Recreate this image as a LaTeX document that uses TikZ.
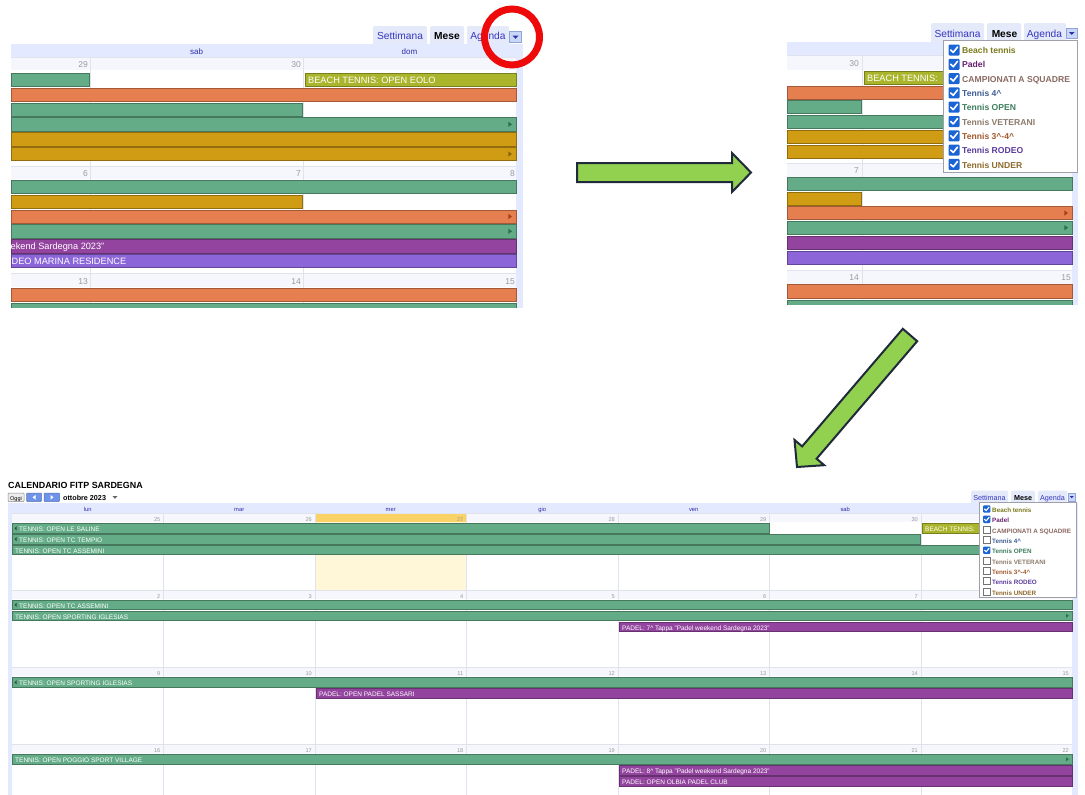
\documentclass[tikz,border=0pt]{standalone}
\usepackage{fontspec}
\setmainfont{Liberation Sans}
\usetikzlibrary{calc}
\definecolor{gr}{HTML}{64AC87}
\definecolor{grD}{HTML}{2F6E4C}
\definecolor{orb}{HTML}{E67F4F}
\definecolor{orbD}{HTML}{A8401A}
\definecolor{gd}{HTML}{D09C13}
\definecolor{gdD}{HTML}{8A6508}
\definecolor{yg}{HTML}{AAB52B}
\definecolor{pu}{HTML}{93449F}
\definecolor{vi}{HTML}{8C66D9}
\definecolor{hdr}{HTML}{E3E9FF}
\definecolor{tabbg}{HTML}{E4EAFA}
\definecolor{daybg}{HTML}{F6F7FD}
\definecolor{gridc}{HTML}{E1E3EC}
\definecolor{numgray}{HTML}{9A9A9A}
\definecolor{daytxt}{HTML}{2E2EA6}
\definecolor{tabblue}{HTML}{3636C0}
\definecolor{arrowgreen}{HTML}{92D050}
\definecolor{arrowedge}{HTML}{1F2A3A}
\definecolor{ringred}{HTML}{EE0A0A}
\definecolor{cbblue}{HTML}{1B64D6}
\definecolor{menuborder}{HTML}{A0A0A8}
\definecolor{ddbtn}{HTML}{C8D6F8}
\definecolor{ddbtnD}{HTML}{8FA5DA}
\definecolor{todayD}{HTML}{FAD265}
\definecolor{todayL}{HTML}{FFF7D8}
\definecolor{navblue}{HTML}{6F93E8}
\definecolor{mBeach}{HTML}{7A7A1E}
\definecolor{mPadel}{HTML}{6A2070}
\definecolor{mCamp}{HTML}{8A6A62}
\definecolor{mQuattro}{HTML}{3F5E96}
\definecolor{mOpen}{HTML}{3E7E5E}
\definecolor{mVet}{HTML}{8C7B6B}
\definecolor{mTre}{HTML}{A35A2E}
\definecolor{mRodeo}{HTML}{5B3C9C}
\definecolor{mUnder}{HTML}{8E6A2C}
\newcommand\fsz[1]{\fontsize{#1}{#1}\selectfont}
% event bar: name, x1, y1, x2, y2, colour, text
\newcommand\evbar[7]{%
  \path[fill=#6,draw=#6!70!black,line width=0.6pt] (#2,#3) rectangle (#4,#5);
  \def\evtxt{#7}%
  \ifx\evtxt\empty\else\node[bartxt] (#1) at ({#2+3},{(#3+#5)/2}) {#7};\fi}
\newcommand\evbarL[7]{%
  \path[fill=#6,draw=#6!70!black,line width=0.6pt] (#2,#3) rectangle (#4,#5);
  \fill[#6!45!black] ({#2+4.5},{(#3+#5)/2-2}) -- ({#2+2.5},{(#3+#5)/2}) -- ({#2+4.5},{(#3+#5)/2+2}) -- cycle;
  \node[bartxt] (#1) at ({#2+7},{(#3+#5)/2}) {#7};}
% right marker: x, y, half size, colour
\newcommand\rtri[4]{\fill[#4] ({#1-#3},{#2-#3}) -- ({#1+0.4*#3},{#2}) -- ({#1-#3},{#2+#3}) -- cycle;}
% check boxes: x centre, y centre, size, line width
\newcommand\chkon[4]{%
  \begin{scope}[shift={(#1,#2)}]
    \fill[cbblue,rounded corners=1pt] ({-#3/2},{-#3/2}) rectangle ({#3/2},{#3/2});
    \draw[white,line width=#4,line cap=round,line join=round] ({-0.3*#3},0) -- ({-0.07*#3},{0.22*#3}) -- ({0.32*#3},{-0.27*#3});
  \end{scope}}
\newcommand\chkoff[3]{%
  \draw[fill=white,draw=black!55,line width=0.6pt] ({#1-#3/2},{#2-#3/2}) rectangle ({#1+#3/2},{#2+#3/2});}
\begin{document}
\begin{tikzpicture}[x=1pt,y=-1pt,
  bartxt/.style={anchor=west,inner sep=0pt,text=white,font=\fsz{9.2},text height=0.72em,text depth=0pt},
  dnum/.style={anchor=east,inner sep=0pt,text=numgray,font=\fsz{8.5},text height=0.72em,text depth=0pt},
  dayname/.style={inner sep=0pt,text=daytxt,font=\fsz{8},text height=0.72em,text depth=0pt},
  tabtext/.style={inner sep=0pt,text=tabblue,font=\fsz{10.2},text height=0.72em,text depth=0pt},
  tabbold/.style={inner sep=0pt,text=black,font=\bfseries\fsz{10.2},text height=0.72em,text depth=0pt},
  menuitem/.style={anchor=west,inner sep=0pt,font=\bfseries\fsz{8.6},text height=0.72em,text depth=0pt},
  gridline/.style={draw=gridc,line width=0.6pt},
  bigarrow/.style={fill=arrowgreen,draw=arrowedge,line width=2pt,line join=miter}]
\useasboundingbox (0,0) rectangle (1085,795);
\fill[white] (0,0) rectangle (1085,795);

% ================= TOP-LEFT PANEL =================
\begin{scope}
  \clip (11,20) rectangle (523,307.5);
  \fill[tabbg,rounded corners=2pt] (373,26) rectangle (427,50);
  \fill[tabbg,rounded corners=2pt] (430,26) rectangle (464,50);
  \fill[tabbg,rounded corners=2pt] (467,26) rectangle (509,50);
  \fill[hdr] (11,44) rectangle (523,57);
  \fill[hdr] (516,44) rectangle (523,308);
  \fill[daybg] (11,57) rectangle (516,70);
  \fill[daybg] (11,166.5) rectangle (516,179);
  \fill[daybg] (11,273.5) rectangle (516,287);
  \draw[gridline] (90,57) -- (90,308) (303,57) -- (303,308);
  \draw[gridline] (11,57) -- (516,57) (11,166.5) -- (516,166.5) (11,273.5) -- (516,273.5);
  % week 1
  \evbar{tla1}{11}{73}{89}{86.5}{gr}{}
  \evbar{tla2}{305}{73}{516}{86.5}{yg}{BEACH TENNIS: OPEN EOLO}
  \evbar{tlb}{11}{88}{516}{101.5}{orb}{}
  \evbar{tlc}{11}{102.8}{302}{116.3}{gr}{}
  \evbar{tld}{11}{117.6}{516}{131.1}{gr}{}
  \rtri{511}{124.3}{2.6}{grD}
  \evbar{tle}{11}{132.4}{516}{145.9}{gd}{}
  \evbar{tlf}{11}{147.2}{516}{160.7}{gd}{}
  \rtri{511}{154}{2.6}{gdD}
  % week 2
  \evbar{tlg}{11}{180}{516}{193.5}{gr}{}
  \evbar{tlh}{11}{195}{302}{208.5}{gd}{}
  \evbar{tli}{11}{209.8}{516}{223.3}{orb}{}
  \rtri{511}{216.5}{2.6}{orbD}
  \evbar{tlj}{11}{224.6}{516}{238.1}{gr}{}
  \rtri{511}{231.3}{2.6}{grD}
  \evbar{tlk0}{11}{239.4}{516}{252.9}{pu}{}
  \node[bartxt] (tlk) at (10.5,246.2) {ekend Sardegna 2023"};
  \evbar{tll0}{11}{254.2}{516}{267.7}{vi}{}
  \node[bartxt] (tll) at (11.5,261) {DEO MARINA RESIDENCE};
  % week 3
  \evbar{tlm}{11}{288}{516}{301.5}{orb}{}
  \evbar{tln}{11}{303}{516}{316}{gr}{}
  % numbers and labels
  \node[dnum] (tl29) at (88,64) {29};
  \node[dnum] (tl30) at (301,64) {30};
  \node[dnum] (tl6) at (88,173) {6};
  \node[dnum] (tl7) at (301,173) {7};
  \node[dnum] (tl8) at (515,173) {8};
  \node[dnum] (tl13) at (88,280.5) {13};
  \node[dnum] (tl14) at (301,280.5) {14};
  \node[dnum] (tl15) at (515,280.5) {15};
  \node[dayname] (tlsab) at (196.5,50.5) {sab};
  \node[dayname] (tldom) at (409.5,50.5) {dom};
  \node[tabtext] (tlset) at (400,36) {Settimana};
  \node[tabbold] (tlmese) at (447,36) {Mese};
  \node[tabtext] (tlag) at (488,36) {Agenda};
  \draw[fill=ddbtn,draw=ddbtnD,line width=0.6pt] (509.5,31.5) rectangle (521.5,42);
  \fill[daytxt] (512.5,35.5) -- (518.5,35.5) -- (515.5,38.8) -- cycle;
\end{scope}
% red ring
\draw[ringred,line width=7pt] (512,37) ellipse [x radius=27.5pt,y radius=28pt];

% ================= TOP-RIGHT PANEL =================
\begin{scope}
  \clip (787,20) rectangle (1078,304.5);
  \fill[tabbg,rounded corners=2pt] (931,23) rectangle (984,46);
  \fill[tabbg,rounded corners=2pt] (987,23) rectangle (1021,46);
  \fill[tabbg,rounded corners=2pt] (1024,23) rectangle (1066,46);
  \fill[hdr] (787,42) rectangle (1078,55.5);
  \fill[hdr] (1072,42) rectangle (1078,305);
  \fill[daybg] (787,55.5) rectangle (1072,70);
  \fill[daybg] (787,163) rectangle (1072,176.5);
  \fill[daybg] (787,270) rectangle (1072,283.5);
  \draw[gridline] (862,55.5) -- (862,305);
  \draw[gridline] (787,55.5) -- (1072,55.5) (787,163) -- (1072,163) (787,270) -- (1072,270);
  \evbar{tra}{864}{71.5}{1072}{84.5}{yg}{BEACH TENNIS:}
  \evbar{trb}{787}{86}{1072}{99}{orb}{}
  \evbar{trc}{787}{100.5}{861}{113.5}{gr}{}
  \evbar{trd}{787}{115}{1072}{128.5}{gr}{}
  \evbar{tre}{787}{130}{1072}{143}{gd}{}
  \evbar{trf}{787}{145}{1072}{158}{gd}{}
  \evbar{trg}{787}{177.5}{1072}{190.5}{gr}{}
  \evbar{trh}{787}{192}{861}{205}{gd}{}
  \evbar{tri}{787}{206.5}{1072}{219.5}{orb}{}
  \rtri{1067}{213}{2.6}{orbD}
  \evbar{trj}{787}{221}{1072}{234.5}{gr}{}
  \rtri{1067}{227.7}{2.6}{grD}
  \evbar{trk}{787}{236}{1072}{249.5}{pu}{}
  \evbar{trl}{787}{251}{1072}{264}{vi}{}
  \evbar{trm}{787}{284.5}{1072}{298}{orb}{}
  \evbar{trn}{787}{300}{1072}{312}{gr}{}
  \node[dnum] (tr30) at (859,63) {30};
  \node[dnum] (tr7) at (859,170) {7};
  \node[dnum] (tr14) at (859,277) {14};
  \node[dnum] (tr15) at (1071,277) {15};
  \node[tabtext] (trset) at (957.5,34) {Settimana};
  \node[tabbold] (trmese) at (1004.5,34) {Mese};
  \node[tabtext] (trag) at (1044.5,34) {Agenda};
  \draw[fill=ddbtn,draw=ddbtnD,line width=0.6pt] (1066.5,28.5) rectangle (1077,38.5);
  \fill[daytxt] (1069,32) -- (1074.5,32) -- (1071.75,35) -- cycle;
\end{scope}
% dropdown menu (top right)
\draw[fill=white,draw=menuborder,line width=0.8pt] (943,40) rectangle (1077,172);
\foreach \yy/\nm/\cc [count=\k] in {
   50/Beach tennis/mBeach, 64.3/Padel/mPadel, 78.6/CAMPIONATI A SQUADRE/mCamp,
   92.9/Tennis 4\textasciicircum/mQuattro, 107.2/Tennis OPEN/mOpen, 121.5/Tennis VETERANI/mVet,
   135.8/Tennis 3\textasciicircum-4\textasciicircum/mTre, 150.1/Tennis RODEO/mRodeo, 164.4/Tennis UNDER/mUnder}{
  \chkon{954}{\yy}{11}{1.6pt}
  \node[menuitem,text=\cc] (trm\k) at (962,\yy) {\nm};
}

% ================= BIG GREEN ARROWS =================
\path[bigarrow] (577,163) -- (732,163) -- (732,153) -- (751,172.5) -- (732,192) -- (732,182) -- (577,182) -- cycle;
\path[bigarrow] (917.2,341.2) -- (816.6,458.7) -- (824.2,465.2) -- (797,467) -- (794.5,439.9) -- (802.1,446.4) -- (902.8,328.8) -- cycle;

% ================= BOTTOM PANEL =================
\begin{scope}[
  bartxt/.style={anchor=west,inner sep=0pt,text=white,font=\fsz{6.5},text height=0.72em,text depth=0pt},
  dnum/.style={anchor=east,inner sep=0pt,text=numgray,font=\fsz{5.6},text height=0.72em,text depth=0pt},
  dayname/.style={inner sep=0pt,text=daytxt,font=\fsz{5.8},text height=0.72em,text depth=0pt},
  tabtext/.style={inner sep=0pt,text=tabblue,font=\fsz{7.2},text height=0.72em,text depth=0pt},
  tabbold/.style={inner sep=0pt,text=black,font=\bfseries\fsz{7.2},text height=0.72em,text depth=0pt},
  menuitem/.style={anchor=west,inner sep=0pt,font=\bfseries\fsz{6.3},text height=0.72em,text depth=0pt}]
  \node[anchor=west,inner sep=0pt,font=\bfseries\fsz{8.9},text height=0.72em,text depth=0pt] (title) at (8,485) {CALENDARIO FITP SARDEGNA};
  \draw[fill=black!7,draw=black!45,line width=0.5pt,rounded corners=0.8pt] (8,493) rectangle (24,501.5);
  \node[inner sep=0pt,font=\fsz{5.5},text height=0.72em,text depth=0pt] (oggi) at (16,497.2) {Oggi};
  \draw[fill=navblue,draw=navblue!80!black,line width=0.5pt,rounded corners=0.8pt] (26.5,493) rectangle (41.5,501.5);
  \fill[white] (35.5,495) -- (32.5,497.25) -- (35.5,499.5) -- cycle;
  \draw[fill=navblue,draw=navblue!80!black,line width=0.5pt,rounded corners=0.8pt] (44,493) rectangle (59.5,501.5);
  \fill[white] (50.5,495) -- (53.5,497.25) -- (50.5,499.5) -- cycle;
  \node[anchor=west,inner sep=0pt,font=\bfseries\fsz{7.2},text height=0.72em,text depth=0pt] (month) at (63,497.2) {ottobre 2023};
  \fill[black!60] (112.5,496) -- (117.5,496) -- (115,498.8) -- cycle;
  % tabs
  \fill[tabbg,rounded corners=1.5pt] (971,490.5) rectangle (1008,506);
  \fill[tabbg,rounded corners=1.5pt] (1011,490.5) rectangle (1035,506);
  \fill[tabbg,rounded corners=1.5pt] (1038,490.5) rectangle (1067,506);
  \node[tabtext] (bset) at (989.5,497) {Settimana};
  \node[tabbold] (bmese) at (1023,497) {Mese};
  \node[tabtext] (bag) at (1052.5,497) {Agenda};
  % header and side strips
  \fill[hdr] (8,503) rectangle (1078,513);
  \fill[hdr] (8,503) rectangle (12,795);
  \fill[hdr] (1072,503) rectangle (1078,795);
  \draw[fill=ddbtn,draw=ddbtnD,line width=0.5pt] (1068,493) rectangle (1075.5,501);
  \fill[daytxt] (1069.8,496) -- (1073.7,496) -- (1071.75,498.3) -- cycle;
  \foreach \cx/\dn in {87.7/lun,239.2/mar,390.7/mer,542.2/gio,693.7/ven,845.2/sab}
    \node[dayname] (bh-\dn) at (\cx,508) {\dn};
  % date rows
  \foreach \wy in {513,590,667,744}
    \fill[daybg] (12,\wy) rectangle (1072,\wy+9);
  \fill[todayD] (315,513) rectangle (466.5,522);
  \fill[todayL] (315,522) rectangle (466.5,590);
  \foreach \gx in {163.5,315,466.5,618,769.5,921}
    \draw[gridline] (\gx,513) -- (\gx,795);
  \foreach \wy in {513,590,667,744}
    \draw[gridline] (12,\wy) -- (1072,\wy);
  % numbers
  \foreach \ex/\n in {163.5/25,315/26,466.5/27,618/28,769.5/29,921/30}
    \node[dnum] (bd-\n) at (\ex-3,517.8) {\n};
  \foreach \ex/\n in {163.5/2,315/3,466.5/4,618/5,769.5/6,921/7}
    \node[dnum] (bd-\n) at (\ex-3,594.8) {\n};
  \foreach \ex/\n in {163.5/9,315/10,466.5/11,618/12,769.5/13,921/14,1072/15}
    \node[dnum] (bd-\n) at (\ex-3,671.8) {\n};
  \foreach \ex/\n in {163.5/16,315/17,466.5/18,618/19,769.5/20,921/21,1072/22}
    \node[dnum] (bd-\n) at (\ex-3,748.8) {\n};
  % events
  \evbarL{bw1a}{12}{523.5}{769}{533}{gr}{TENNIS: OPEN LE SALINE}
  \evbarL{bw1b}{12}{534.3}{920}{543.8}{gr}{TENNIS: OPEN TC TEMPIO}
  \evbar{bw1c}{12}{545}{1072}{554.5}{gr}{TENNIS: OPEN TC ASSEMINI}
  \evbar{bw1d}{922}{523.5}{1072}{533}{yg}{BEACH TENNIS:}
  \evbarL{bw2a}{12}{600}{1072}{609.5}{gr}{TENNIS: OPEN TC ASSEMINI}
  \evbar{bw2b}{12}{611}{1072}{620.5}{gr}{TENNIS: OPEN SPORTING IGLESIAS}
  \rtri{1068}{615.75}{2}{grD}
  \evbar{bw2c}{619}{622}{1072}{631.5}{pu}{PADEL: 7\textasciicircum{} Tappa "Padel weekend Sardegna 2023"}
  \evbarL{bw3a}{12}{677.5}{1072}{687}{gr}{TENNIS: OPEN SPORTING IGLESIAS}
  \evbar{bw3b}{316}{688.3}{1072}{697.8}{pu}{PADEL: OPEN PADEL SASSARI}
  \evbar{bw4a}{12}{754.5}{1072}{764}{gr}{TENNIS: OPEN POGGIO SPORT VILLAGE}
  \rtri{1068}{759.25}{2}{grD}
  \evbar{bw4b}{619}{765.5}{1072}{775}{pu}{PADEL: 8\textasciicircum{} Tappa "Padel weekend Sardegna 2023"}
  \evbar{bw4c}{619}{776.5}{1072}{786}{pu}{PADEL: OPEN OLBIA PADEL CLUB}
  % dropdown menu (bottom)
  \draw[fill=white,draw=menuborder,line width=0.7pt] (979,502) rectangle (1076,597);
  \foreach \yy/\nm/\cc/\on [count=\k] in {
     509/Beach tennis/mBeach/1, 519.3/Padel/mPadel/1, 529.6/CAMPIONATI A SQUADRE/mCamp/0,
     539.9/Tennis 4\textasciicircum/mQuattro/0, 550.2/Tennis OPEN/mOpen/1, 560.5/Tennis VETERANI/mVet/0,
     570.8/Tennis 3\textasciicircum-4\textasciicircum/mTre/0, 581.1/Tennis RODEO/mRodeo/0, 591.4/Tennis UNDER/mUnder/0}{
    \ifnum\on=1 \chkon{986.7}{\yy}{7.4}{1.1pt}\else\chkoff{986.7}{\yy}{7.2}\fi
    \node[menuitem,text=\cc] (bm\k) at (992,\yy) {\nm};
  }
\end{scope}
\end{tikzpicture}
\end{document}
